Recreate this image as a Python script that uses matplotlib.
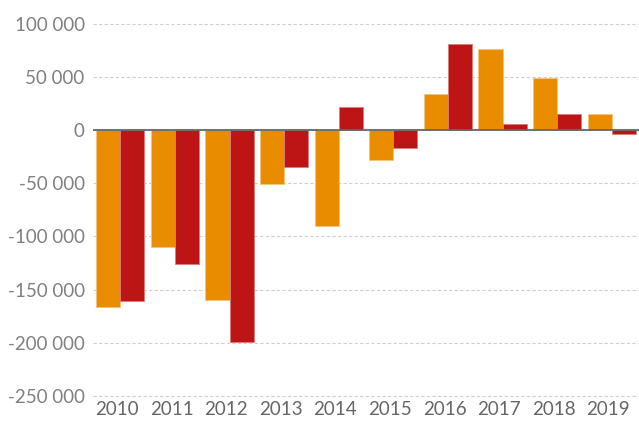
import numpy as np
import matplotlib.pyplot as plt

years = ['2010', '2011', '2012', '2013', '2014', '2015', '2016', '2017', '2018', '2019']
orange_vals = [-166000, -110000, -160000, -50700, -90000, -28000, 33800, 76300, 49100, 15000]
red_vals = [-161000, -126000, -199000, -35000, 21300, -17200, 81000, 5300, 15000, -4000]
yticks = [100000, 50000, 0, -50000, -100000, -150000, -200000, -250000]

plt.rcParams['font.family'] = ['Lato', 'DejaVu Sans']

fig = plt.figure(figsize=(6.39, 4.21), dpi=100)
ax = fig.add_axes([93/639, 0.0546, 1 - 93/639, 0.982 - 0.0546])

x = np.arange(len(years))
w = 0.44
ax.bar(x - w/2, orange_vals, w, color='#EA8C00', edgecolor='#f5c27a', linewidth=0.6, zorder=3)
ax.bar(x + w/2, red_vals, w, color='#BD1515', edgecolor='#dc7a7a', linewidth=0.6, zorder=3)

ax.axhline(0, color='#666666', lw=1.3, zorder=4)
for t in yticks:
    if t != 0:
        ax.axhline(t, color='#d0d0d0', lw=0.8, ls=(0, (3, 2)), zorder=1)

ax.set_xlim(-0.5, 9.5)
ax.set_ylim(-252000, 115000)

ax.set_yticks(yticks)
ax.set_yticklabels([f'{v:,}'.replace(',', ' ') for v in yticks])
ax.set_xticks(x - 0.46)
ax.set_xticklabels(years, ha='left')
ax.tick_params(axis='y', length=0, pad=6, labelsize=13.5, labelcolor='#808080')
ax.tick_params(axis='x', length=0, pad=2, labelsize=13.5, labelcolor='#666666')

for s in ax.spines.values():
    s.set_visible(False)

fig.savefig('out.png', dpi=100)
